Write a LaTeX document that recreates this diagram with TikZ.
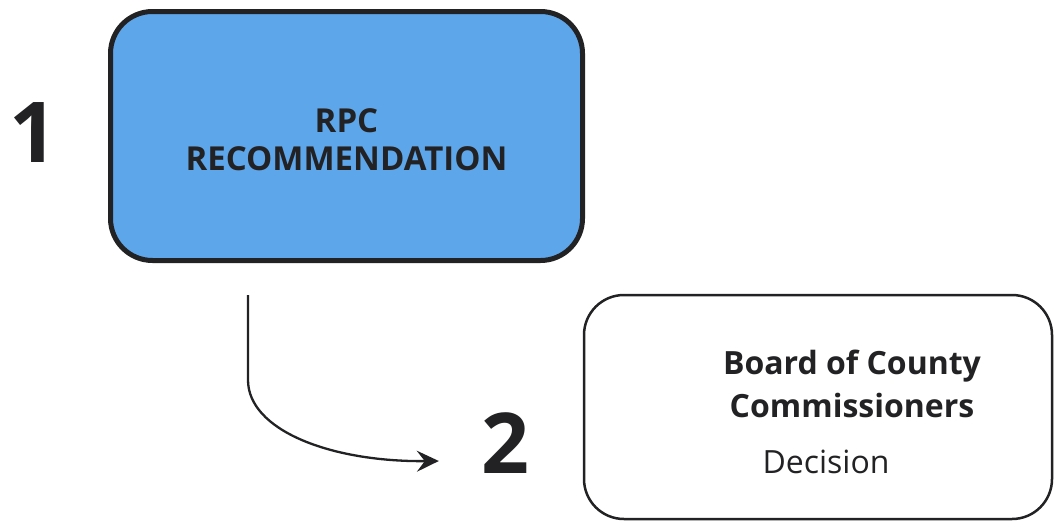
\documentclass[tikz,border=0pt]{standalone}
\usepackage{fontspec}
\setmainfont{Open Sans}
\usetikzlibrary{arrows.meta}
\definecolor{rpcblue}{RGB}{94,166,234}
\definecolor{ink}{RGB}{34,34,36}
\tikzset{
  rpcbox/.style={draw=ink, line width=5pt, fill=rpcblue, rounded corners=42pt,
    minimum width=472pt, minimum height=249pt, inner sep=0pt, align=center,
    text=ink, font=\fontsize{33}{38}\selectfont\bfseries},
  boardbox/.style={draw=ink, line width=2.5pt, rounded corners=40pt,
    minimum width=468pt, minimum height=224pt, inner sep=0pt},
  bignum/.style={text=ink, font=\fontsize{84}{84}\selectfont\bfseries, inner sep=0pt},
  titletext/.style={text=ink, align=center, inner sep=0pt,
    font=\fontsize{32}{43}\selectfont\bfseries},
  plaintext/.style={text=ink, inner sep=0pt, font=\fontsize{32}{36}\selectfont},
  flow/.style={draw=ink, line width=2.3pt, -{Stealth[length=22pt,width=21pt,inset=8pt]}}
}
\begin{document}
\begin{tikzpicture}[x=1pt,y=-1pt]
\useasboundingbox (0,0) rectangle (1055,522);
\node[rpcbox] (rpc) at (346.5,136) {\raisebox{-8pt}[\height][\depth]{\begin{tabular}{@{}c@{}}RPC\\RECOMMENDATION\end{tabular}}};
\node[boardbox] (board) at (818,407) {};
\node[bignum, anchor=base] (n1) at (33,162) {1};
\node[bignum, anchor=base] (n2) at (505,473) {2};
\node[titletext, anchor=base] (title) at (852,417) {Board of County\\Commissioners};
\node[plaintext, anchor=base] (dec) at (826,473) {Decision};
\coordinate (start) at (248,295);
\draw[flow] (start) -- (248,380) .. controls (248,430) and (330,462) .. ([xshift=-42pt]n2.west |- 0,461);
\end{tikzpicture}
\end{document}
